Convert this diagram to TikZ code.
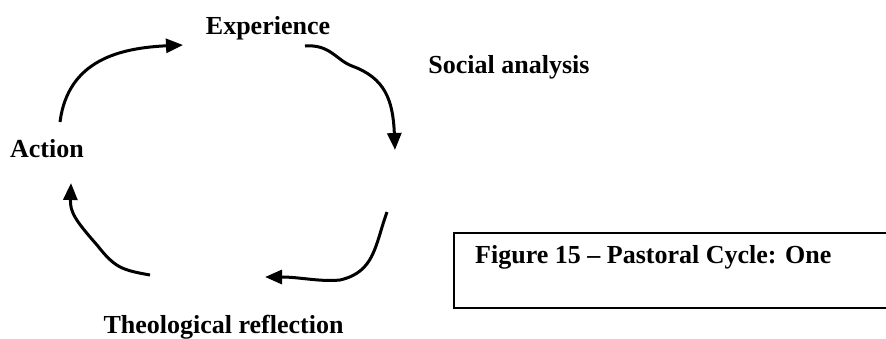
\documentclass[tikz,border=0pt]{standalone}
\usepackage{fontspec}
\setmainfont{Liberation Serif}
\usetikzlibrary{arrows.meta}

\begin{document}
\begin{tikzpicture}[x=1pt, y=-1pt,
    lbl/.style={anchor=base, inner sep=0pt, font=\fontsize{26}{30}\selectfont\bfseries},
    cyc/.style={line width=3pt, -{Triangle[length=17pt, width=14pt]}}]
  \useasboundingbox (0,0) rectangle (886,338);
  \node [lbl] (e) at (268, 34) {Experience};
  \node [lbl] (s) at (509, 73) {Social analysis};
  \node [lbl] (a) at (47, 157) {Action};
  \node [lbl] (t) at (223.5, 333) {Theological reflection};
  \node [lbl, anchor=base west] (f) at (475, 263) {Figure 15 -- Pastoral Cycle: One};
  \draw [line width=2pt] (454, 233) rectangle (900, 308);
  \coordinate (a1) at (60, 122);
  \coordinate (e1) at (183, 45);
  \coordinate (e2) at (305, 46);
  \coordinate (s1) at (395, 150);
  \coordinate (s2) at (387, 212);
  \coordinate (t1) at (265, 277);
  \coordinate (t2) at (150, 275);
  \coordinate (a2) at (71, 183);
  \draw [cyc] (a1) .. controls (68, 60) and (120, 48) .. (e1);
  \draw [cyc] (e2) .. controls (330, 44) and (336, 60) .. (352, 66)
    .. controls (385, 78) and (393, 100) .. (s1);
  \draw [cyc] (s2) .. controls (375, 245) and (375, 272) .. (340, 280)
    .. controls (320, 282) and (300, 277) .. (t1);
  \draw [cyc] (t2) .. controls (122, 270) and (115, 268) .. (97, 245)
    .. controls (75, 220) and (70, 212) .. (a2);
\end{tikzpicture}
\end{document}
